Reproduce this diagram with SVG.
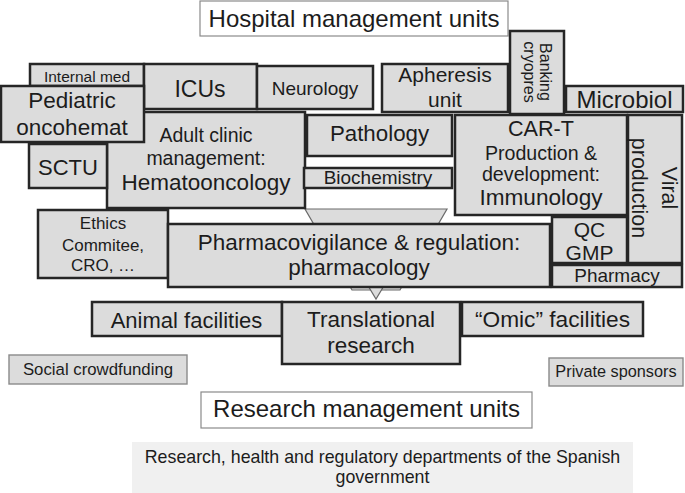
<svg xmlns="http://www.w3.org/2000/svg" width="685" height="493" viewBox="0 0 685 493">
<style>
.b{fill:#dcdcdc;stroke:#262626;stroke-width:2.5}
.w{fill:#ffffff;stroke:#8a8a8a;stroke-width:1.2}
.s{fill:#dcdcdc;stroke:#8a8a8a;stroke-width:1.4}
.a{fill:#dcdcdc;stroke:#6a6a6a;stroke-width:1.2}
text{font-family:"Liberation Sans",Arial,sans-serif;fill:#1c1c1c;text-anchor:middle}
</style>
<rect width="685" height="493" fill="#ffffff"/>
<g id="connectors">
<polygon class="a" points="305,209 447,209 400,290 352,290"/>
<polygon class="a" points="367,284 385,284 376,299"/>
</g>
<g id="hospital-units"><rect class="w" x="200" y="1" width="308" height="35"/><text x="354" y="27" font-size="24">Hospital management units</text></g>
<g id="internal-med"><rect class="b" x="30" y="64" width="114" height="22"/><text x="87" y="82" font-size="15.5">Internal med</text></g>
<g id="icus"><rect class="b" x="144" y="64" width="113" height="45"/><text x="200" y="97" font-size="23">ICUs</text></g>
<g id="neurology"><rect class="b" x="257" y="66" width="116" height="43"/><text x="315" y="95" font-size="19">Neurology</text></g>
<g id="apheresis"><rect class="b" x="382" y="64" width="126" height="48"/><text x="445" y="82" font-size="21">Apheresis</text><text x="445" y="107" font-size="21">unit</text></g>
<g id="banking"><rect class="b" x="510" y="31" width="54" height="83"/><text transform="translate(537,72) rotate(90)" font-size="16"><tspan x="0" y="-3">Banking</tspan><tspan x="0" y="13">cryopres</tspan></text></g>
<g id="microbiol"><rect class="b" x="566" y="86" width="117" height="26"/><text x="624.5" y="108" font-size="24">Microbiol</text></g>
<g id="adult-clinic"><rect class="b" x="107" y="112" width="198" height="96"/><text x="206" y="142" font-size="19.5">Adult clinic</text><text x="206" y="165" font-size="19.5">management:</text><text x="206" y="190" font-size="22.5">Hematooncology</text></g>
<g id="pediatric"><rect class="b" x="1" y="86" width="143" height="56"/><text x="72" y="108" font-size="22.5">Pediatric</text><text x="72" y="135" font-size="22.5">oncohemat</text></g>
<g id="sctu"><rect class="b" x="29" y="144" width="78" height="44"/><text x="68" y="175" font-size="22">SCTU</text></g>
<g id="pathology"><rect class="b" x="307" y="115" width="145" height="41"/><text x="379.5" y="141" font-size="22.3">Pathology</text></g>
<g id="biochemistry"><rect class="b" x="304" y="168" width="148" height="20"/><text x="378" y="184" font-size="19">Biochemistry</text></g>
<g id="car-t"><rect class="b" x="455" y="115" width="172" height="100"/><text x="541" y="136" font-size="21.6">CAR-T</text><text x="541" y="160" font-size="19.6">Production &amp;</text><text x="541" y="181" font-size="19.7">development:</text><text x="541" y="205" font-size="22.6">Immunology</text></g>
<g id="viral"><rect class="b" x="628" y="115" width="54" height="148"/><text transform="translate(647,188) rotate(90)" font-size="21.5"><tspan x="0" y="-15">Viral</tspan><tspan x="0" y="15">production</tspan></text></g>
<g id="ethics"><rect class="b" x="38" y="210" width="130" height="68"/><text x="103" y="229" font-size="17">Ethics</text><text x="103" y="251" font-size="17">Commitee,</text><text x="103" y="271" font-size="17">CRO, …</text></g>
<g id="pharmacovigilance"><rect class="b" x="168" y="224" width="382" height="63"/><text x="359" y="250" font-size="22.5">Pharmacovigilance &amp; regulation:</text><text x="359" y="275" font-size="22.5">pharmacology</text></g>
<g id="qc-gmp"><rect class="b" x="552" y="217" width="75" height="46"/><text x="589.5" y="237" font-size="21">QC</text><text x="589.5" y="260" font-size="21">GMP</text></g>
<g id="pharmacy"><rect class="b" x="552" y="265" width="130" height="22"/><text x="617" y="282" font-size="19">Pharmacy</text></g>
<g id="animal"><rect class="b" x="92" y="302" width="190" height="34"/><text x="186.5" y="328" font-size="22">Animal facilities</text></g>
<g id="translational"><rect class="b" x="282" y="302" width="178" height="62"/><text x="371" y="327" font-size="22.5">Translational</text><text x="371" y="353" font-size="22.5">research</text></g>
<g id="omic"><rect class="b" x="462" y="302" width="181" height="34"/><text x="552.5" y="327" font-size="22.7">“Omic” facilities</text></g>
<g id="crowdfunding"><rect class="s" x="9" y="355" width="178" height="29"/><text x="98" y="375" font-size="16.8">Social crowdfunding</text></g>
<g id="sponsors"><rect class="s" x="549" y="358" width="134" height="28"/><text x="616" y="377" font-size="16.3">Private sponsors</text></g>
<g id="research-units"><rect class="w" x="201" y="392" width="331" height="36"/><text x="366.5" y="417" font-size="24">Research management units</text></g>
<g id="government"><rect x="132" y="442" width="501" height="51" fill="#f0f0f0"/><text x="382.5" y="463" font-size="17.8">Research, health and regulatory departments of the Spanish</text><text x="382.5" y="483" font-size="17.8">government</text></g>
</svg>
